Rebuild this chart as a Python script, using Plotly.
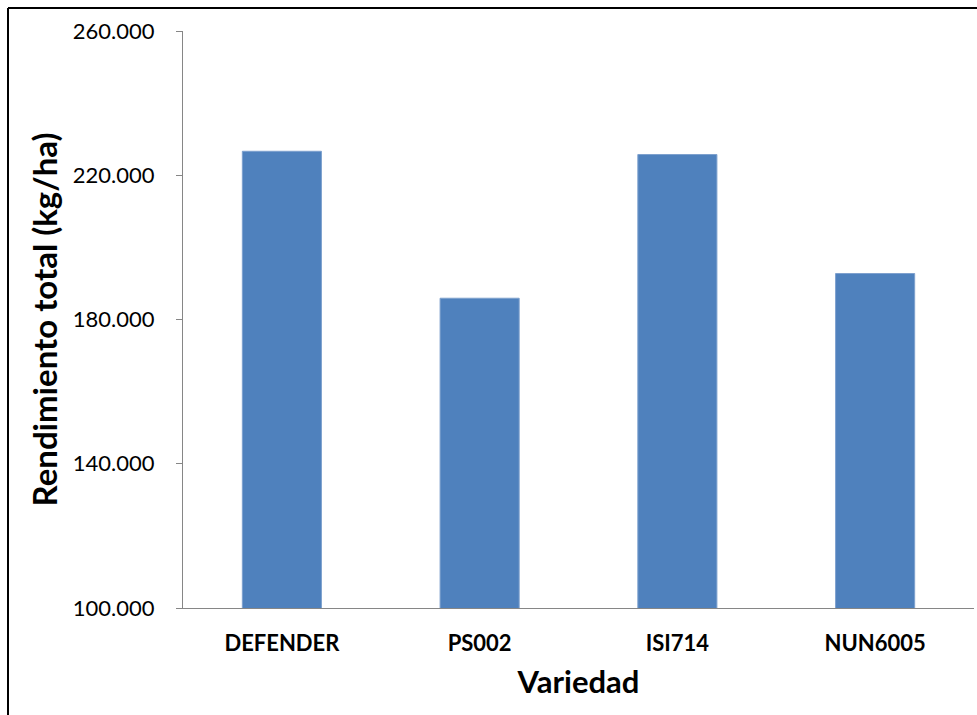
import plotly.graph_objects as go

categories = ["DEFENDER", "PS002", "ISI714", "NUN6005"]
rendimiento = [226650, 185900, 225750, 192750]
y_tickvals = [100000, 140000, 180000, 220000, 260000]

FONT = "Lato"
L, R, T, B = 183, 3, 31, 107
W, H = 977, 715
pw = W - L - R
ph = H - T - B

fig = go.Figure(go.Bar(
    x=categories, y=rendimiento,
    marker=dict(color="#4F81BD", line=dict(color="#7EA1CE", width=1)),
    width=0.4,
))

fig.update_layout(
    width=W, height=H,
    margin=dict(l=L, r=R, t=T, b=B, pad=0),
    paper_bgcolor="white", plot_bgcolor="white",
    separators=",.",
    showlegend=False,
    font=dict(family=FONT, color="#000000"),
    shapes=[
        dict(type="line", xref="paper", yref="paper",
             x0=(8 - L) / pw, x1=1.2, y0=(H - B - 8) / ph, y1=(H - B - 8) / ph,
             line=dict(color="#000000", width=2)),
        dict(type="line", xref="paper", yref="paper",
             x0=(8 - L) / pw, x1=(8 - L) / pw, y0=(H - B - 8) / ph, y1=-0.5,
             line=dict(color="#000000", width=2)),
    ],
)

fig.update_yaxes(
    range=[100000, 260000], tickvals=y_tickvals, tickformat=",d",
    showgrid=False, zeroline=False,
    showline=True, linecolor="#868686", linewidth=1,
    ticks="outside", ticklen=6, tickcolor="#868686",
    ticklabelstandoff=17,
    tickfont=dict(family=FONT, size=22, color="#000000"),
    title=dict(text="<b>Rendimiento total (kg/ha)</b>", font=dict(family=FONT, size=33), standoff=5),
)
fig.update_xaxes(
    showgrid=False, zeroline=False,
    showline=True, linecolor="#868686", linewidth=1,
    ticks="", ticklabelstandoff=16,
    tickfont=dict(family=FONT, size=22, color="#000000", weight="bold"),
    title=dict(text="<b>Variedad</b>", font=dict(family=FONT, size=31), standoff=15),
)

fig.write_html("out.html")
